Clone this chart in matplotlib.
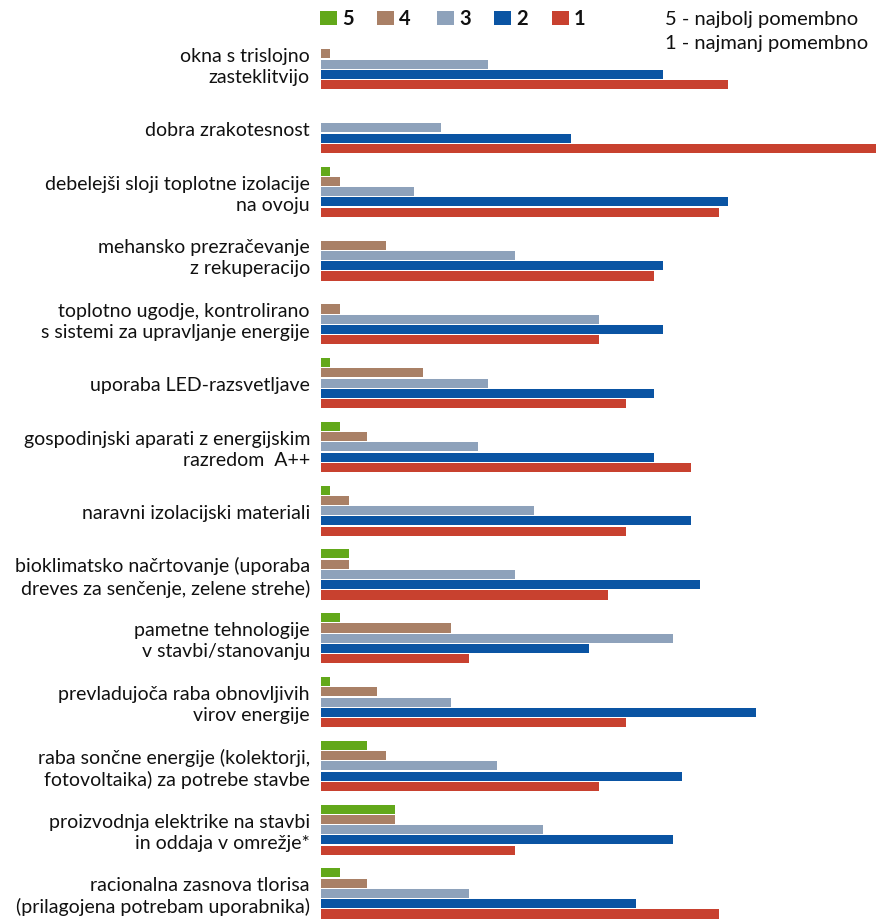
import matplotlib
matplotlib.use("Agg")
import matplotlib.pyplot as plt
from matplotlib.patches import Rectangle
import numpy as np

plt.rcParams["font.family"] = ["Lato", "DejaVu Sans"]

categories = [
    "okna s trislojno\nzasteklitvijo",
    "dobra zrakotesnost",
    "debelejši sloji toplotne izolacije\nna ovoju",
    "mehansko prezračevanje\nz rekuperacijo",
    "toplotno ugodje, kontrolirano\ns sistemi za upravljanje energije",
    "uporaba LED-razsvetljave",
    "gospodinjski aparati z energijskim\nrazredom  A++",
    "naravni izolacijski materiali",
    "bioklimatsko načrtovanje (uporaba\ndreves za senčenje, zelene strehe)",
    "pametne tehnologije\nv stavbi/stanovanju",
    "prevladujoča raba obnovljivih\nvirov energije",
    "raba sončne energije (kolektorji,\nfotovoltaika) za potrebe stavbe",
    "proizvodnja elektrike na stavbi\nin oddaja v omrežje*",
    "racionalna zasnova tlorisa\n(prilagojena potrebam uporabnika)",
]

series_names = ["5", "4", "3", "2", "1"]
grade5 = [0, 0, 1, 0, 0, 1, 2, 1, 3, 2, 1, 5, 8, 2]
grade4 = [1, 0, 2, 7, 2, 11, 5, 3, 3, 14, 6, 7, 8, 5]
grade3 = [18, 13, 10, 21, 30, 18, 17, 23, 21, 38, 14, 19, 24, 16]
grade2 = [37, 27, 44, 37, 37, 36, 36, 40, 41, 29, 47, 39, 38, 34]
grade1 = [44, 60, 43, 36, 30, 33, 40, 33, 31, 16, 33, 30, 21, 43]
series = [grade5, grade4, grade3, grade2, grade1]
colors = ["#62a81a", "#a98066", "#8ea2bb", "#0a54a3", "#c8412f"]

W, H = 880, 920
fig = plt.figure(figsize=(W / 100, H / 100), dpi=100)
x0 = 321 / W
ax = fig.add_axes([x0, 0, 1 - x0, 1])

y = np.arange(len(categories))
step = 0.161
for k, (vals, col) in enumerate(zip(series, colors)):
    ax.barh(y + (k - 2) * step, vals, height=0.142, color=col, linewidth=0)

ax.set_xlim(0, 60.4)
ax.set_ylim(13.40, -1.02)
ax.axis("off")

for i, lab in enumerate(categories):
    ax.text(-1.2, i + 0.03, lab, ha="right", va="center", multialignment="right",
            fontsize=14, color="#111111", linespacing=1.28, clip_on=False)

# legend row
lx = [320, 377, 437, 494, 552]
for px, name, col in zip(lx, series_names, colors):
    fig.add_artist(Rectangle((px / W, 1 - 26 / H), 17 / W, 14 / H,
                             transform=fig.transFigure, color=col, lw=0))
    fig.text((px + 22) / W, 1 - 19 / H, name, ha="left", va="center",
             fontsize=14.5, fontweight="bold", color="#111111")

fig.text(665 / W, 1 - 19 / H, "5 - najbolj pomembno", ha="left", va="center",
         fontsize=14.5, color="#111111")
fig.text(665 / W, 1 - 43 / H, "1 - najmanj pomembno", ha="left", va="center",
         fontsize=14.5, color="#111111")

fig.savefig("out.png", dpi=100, facecolor="white")
